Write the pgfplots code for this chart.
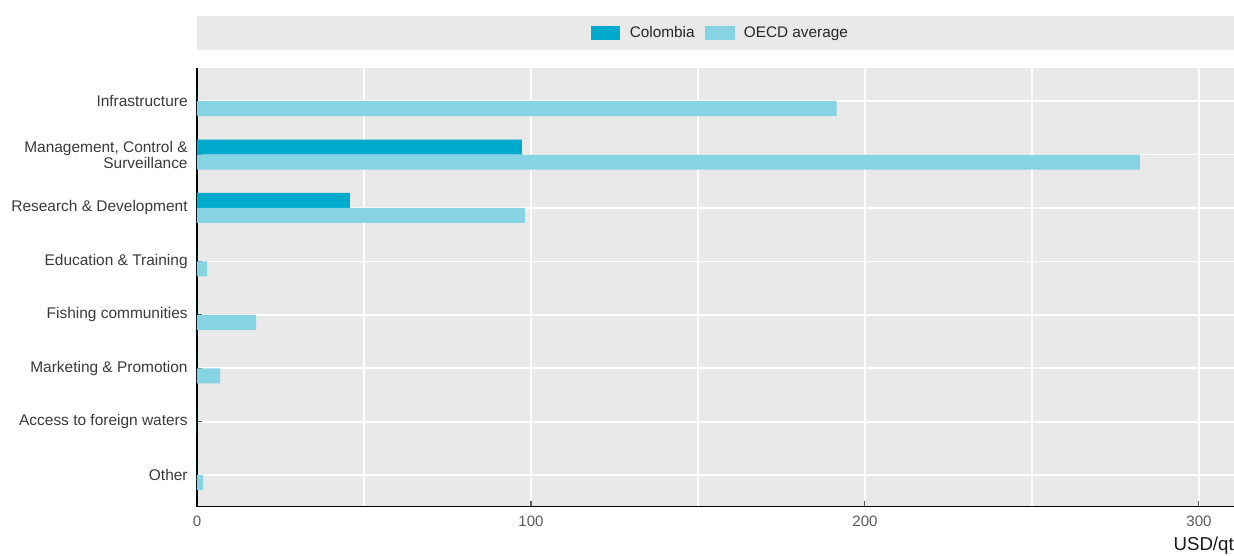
\documentclass[border=0pt]{standalone}
\usepackage{fontspec}
\setmainfont{Liberation Sans}
\usepackage{pgfplots}
\pgfplotsset{compat=1.18}
\definecolor{colC}{HTML}{00AACC}
\definecolor{colO}{HTML}{86D3E3}
\definecolor{bg}{HTML}{E9E9E9}
\definecolor{tickc}{HTML}{5A5A5A}
\definecolor{labc}{HTML}{3A3A3A}
\begin{document}
\begin{tikzpicture}
\useasboundingbox (-147.75pt,-37pt) rectangle (777.75pt,380pt);
\fill[bg] (0,342.5pt) rectangle (777.75pt,368pt);
\begin{axis}[
  at={(0,0)}, anchor=south west,
  scale only axis, width=777.75pt, height=329pt,
  clip=false,
  xbar, bar width=11.25pt,
  xmin=0, xmax=310.5, ymin=-0.62, ymax=7.59, y dir=reverse,
  axis background/.style={fill=bg},
  axis x line*=bottom, axis y line*=left,
  axis line style={black, line width=0.8pt, -},
  xtick={0,100,200,300}, minor xtick={50,150,250},
  grid=both,
  major grid style={white, line width=1.3pt},
  minor grid style={white, line width=1.3pt},
  ytick={0,...,7},
  yticklabels={Infrastructure, {Management, Control \&\\Surveillance}, Research \& Development, Education \& Training, Fishing communities, Marketing \& Promotion, Access to foreign waters, Other},
  yticklabel style={align=right, font=\fontsize{11.6}{12}\selectfont, text=labc, xshift=-3.5pt},
  xticklabel style={font=\fontsize{11.3}{13}\selectfont, text=tickc, yshift=-3.5pt},
  /pgf/number format/assume math mode=true,
  tick align=inside,
  major tick length=4pt, minor tick length=0pt,
  tick style={tickc, line width=0.8pt},
  legend columns=2,
  legend style={at={(0.5,1)}, anchor=center, yshift=26.25pt, xshift=4pt, draw=none, fill=none,
    font=\fontsize{11.5}{13}\selectfont, text=black!85,
    /tikz/every odd column/.append style={column sep=5pt},
    /tikz/every even column/.append style={column sep=6pt}},
  legend cell align=left,
]
\addplot[draw=none, fill=colC, bar shift=5.625pt,
  legend image code/.code={\fill[colC] (0pt,-5.25pt) rectangle (22pt,5.25pt);}]
  coordinates {(0,0) (97.3,1) (45.8,2) (0,3) (0,4) (0,5) (0,6) (0,7)};
\addlegendentry{Colombia}
\addplot[draw=none, fill=colO, bar shift=-5.625pt,
  legend image code/.code={\fill[colO] (0pt,-5.25pt) rectangle (22pt,5.25pt);}]
  coordinates {(191.5,0) (282.3,1) (98.2,2) (3.0,3) (17.7,4) (6.9,5) (0,6) (1.8,7)};
\addlegendentry{OECD average}
\node[anchor=base east, inner sep=0pt, font=\fontsize{14}{16}\selectfont, text=black!90] at (axis description cs:1,0) [yshift=-33pt] {USD/qt};
\end{axis}
\end{tikzpicture}
\end{document}
